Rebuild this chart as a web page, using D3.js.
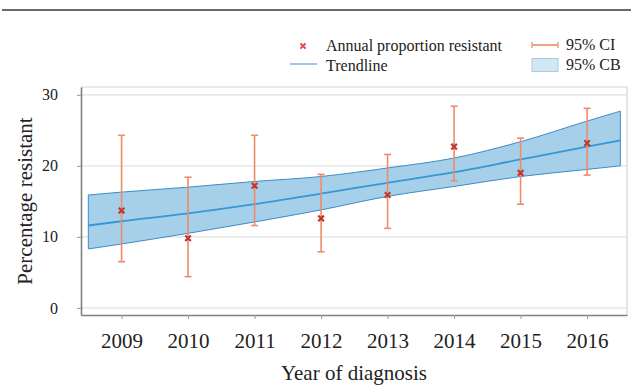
<!DOCTYPE html>
<html>
<head>
<meta charset="utf-8">
<script src="https://cdn.jsdelivr.net/npm/d3@7"></script>
<style>
  html, body { margin: 0; padding: 0; background: #fff; }
  svg { display: block; }
</style>
</head>
<body>
<svg id="chart" width="631" height="385"></svg>
<script>
// Annual resistance estimates with 95% confidence intervals
const years      = [2009, 2010, 2011, 2012, 2013, 2014, 2015, 2016];
const proportion = [13.7, 9.8, 17.2, 12.6, 15.9, 22.7, 19.0, 23.2];
const ciLower    = [6.5, 4.4, 11.6, 7.9, 11.2, 17.9, 14.6, 18.7];
const ciUpper    = [24.3, 18.4, 24.3, 18.8, 21.6, 28.4, 23.9, 28.1];

// Fitted trendline with its 95% confidence band
const trendX     = [2008.5, 2009, 2010, 2011, 2012, 2013, 2014, 2015, 2016, 2016.5];
const trendY     = [11.6, 12.2, 13.3, 14.6, 16.1, 17.6, 19.1, 20.9, 22.7, 23.6];
const bandLower  = [8.3, 9.0, 10.5, 12.1, 13.8, 15.7, 17.1, 18.5, 19.5, 20.0];
const bandUpper  = [15.9, 16.3, 17.0, 17.8, 18.5, 19.7, 21.1, 23.4, 26.3, 27.7];

const yTicks = [0, 10, 20, 30];

const FONT = "'Liberation Serif', 'DejaVu Serif', 'Times New Roman', serif";

const svg = d3.select("#chart").attr("font-family", FONT);

const plot = { left: 81, right: 627, top: 87, bottom: 315 };

const x = d3.scaleLinear().domain([2008.39, 2016.6]).range([plot.left, plot.right]);
const y = d3.scaleLinear().domain([-1, 31.1]).range([plot.bottom, plot.top]);

// rule across the top of the figure
svg.append("line")
  .attr("x1", 2).attr("x2", 631).attr("y1", 10).attr("y2", 10)
  .attr("stroke", "#6a6a6a").attr("stroke-width", 2.2);

// light frame on top and right
svg.append("line")
  .attr("x1", plot.left).attr("x2", plot.right).attr("y1", plot.top).attr("y2", plot.top)
  .attr("stroke", "#d4d4d4").attr("stroke-width", 1.2);
svg.append("line")
  .attr("x1", plot.right).attr("x2", plot.right).attr("y1", plot.top).attr("y2", plot.bottom)
  .attr("stroke", "#d4d4d4").attr("stroke-width", 1.2);

// horizontal gridlines
svg.append("g").selectAll("line").data(yTicks).join("line")
  .attr("x1", plot.left).attr("x2", plot.right)
  .attr("y1", d => y(d)).attr("y2", d => y(d))
  .attr("stroke", "#e2e2e2").attr("stroke-width", 1.2);

// confidence band
const bandData = trendX.map((t, i) => ({ x: t, lo: bandLower[i], hi: bandUpper[i], m: trendY[i] }));
const area = d3.area().x(d => x(d.x)).y0(d => y(d.lo)).y1(d => y(d.hi)).curve(d3.curveMonotoneX);
svg.append("path").datum(bandData)
  .attr("d", area)
  .attr("fill", "#a6d0ea")
  .attr("stroke", "#3f8cc6").attr("stroke-width", 1);

// trendline
const line = d3.line().x(d => x(d.x)).y(d => y(d.m)).curve(d3.curveMonotoneX);
svg.append("path").datum(bandData)
  .attr("d", line)
  .attr("fill", "none")
  .attr("stroke", "#3597d4").attr("stroke-width", 1.8);

// error bars
const ciColor = "#ec8c69";
const bars = svg.append("g").selectAll("g").data(years).join("g");
bars.append("line")
  .attr("x1", d => x(d)).attr("x2", d => x(d))
  .attr("y1", (d, i) => y(ciLower[i])).attr("y2", (d, i) => y(ciUpper[i]))
  .attr("stroke", ciColor).attr("stroke-width", 1.6);
bars.append("line")
  .attr("x1", d => x(d) - 3.5).attr("x2", d => x(d) + 3.5)
  .attr("y1", (d, i) => y(ciLower[i])).attr("y2", (d, i) => y(ciLower[i]))
  .attr("stroke", ciColor).attr("stroke-width", 1.6);
bars.append("line")
  .attr("x1", d => x(d) - 3.5).attr("x2", d => x(d) + 3.5)
  .attr("y1", (d, i) => y(ciUpper[i])).attr("y2", (d, i) => y(ciUpper[i]))
  .attr("stroke", ciColor).attr("stroke-width", 1.6);

// point markers
const cross = (sel, cx, cy, r, color, w) => {
  sel.append("path")
    .attr("d", `M${cx - r},${cy - r}L${cx + r},${cy + r}M${cx - r},${cy + r}L${cx + r},${cy - r}`)
    .attr("stroke", color).attr("stroke-width", w).attr("fill", "none");
};
const pts = svg.append("g");
years.forEach((yr, i) => cross(pts, x(yr), y(proportion[i]), 2.8, "#c0392f", 2.2));

// axes
const yAxis = d3.axisLeft(y).tickValues(yTicks).tickSize(4).tickSizeOuter(0).tickPadding(19);
const gy = svg.append("g").attr("transform", `translate(${plot.left},0)`).call(yAxis)
  .attr("font-family", FONT).attr("font-size", 16);
gy.select(".domain").attr("stroke", "#808080").attr("stroke-width", 1.6);
gy.selectAll(".tick line").attr("stroke", "#9a9a9a");
gy.selectAll(".tick text").attr("fill", "#222");

const xAxis = d3.axisBottom(x).tickValues(years).tickFormat(d3.format("d")).tickSize(4).tickSizeOuter(0);
const gx = svg.append("g").attr("transform", `translate(0,${plot.bottom})`).call(xAxis)
  .attr("font-family", FONT).attr("font-size", 21);
gx.select(".domain").attr("stroke", "#808080").attr("stroke-width", 1.6);
gx.selectAll(".tick line").attr("stroke", "#9a9a9a");
gx.selectAll(".tick text").attr("fill", "#222").attr("y", 33).attr("dy", 0);

// axis titles
svg.append("text")
  .attr("x", (plot.left + plot.right) / 2).attr("y", 380)
  .attr("text-anchor", "middle").attr("font-size", 21).attr("fill", "#222")
  .text("Year of diagnosis");
svg.append("text")
  .attr("transform", `translate(32,${(plot.top + plot.bottom) / 2}) rotate(-90)`)
  .attr("text-anchor", "middle").attr("font-size", 21).attr("fill", "#222")
  .text("Percentage resistant");

// legend
const lg = svg.append("g").attr("font-size", 16).attr("fill", "#222");
cross(lg, 303, 46, 2.6, "#e0464a", 2);
lg.append("text").attr("x", 326).attr("y", 50.5).text("Annual proportion resistant");
lg.append("line").attr("x1", 290).attr("x2", 317).attr("y1", 64).attr("y2", 64)
  .attr("stroke", "#9cc9e6").attr("stroke-width", 2);
lg.append("text").attr("x", 326).attr("y", 70.5).text("Trendline");

lg.append("line").attr("x1", 532).attr("x2", 558).attr("y1", 45).attr("y2", 45)
  .attr("stroke", "#f2a07f").attr("stroke-width", 2);
[532, 558].forEach(px => lg.append("line")
  .attr("x1", px).attr("x2", px).attr("y1", 42).attr("y2", 48)
  .attr("stroke", "#f2a07f").attr("stroke-width", 1.5));
lg.append("text").attr("x", 566).attr("y", 50).text("95% CI");
lg.append("rect").attr("x", 532).attr("y", 58.5).attr("width", 26).attr("height", 13)
  .attr("fill", "#d3e6f4").attr("stroke", "#a6cbe6").attr("stroke-width", 1);
lg.append("text").attr("x", 566).attr("y", 70).text("95% CB");
</script>
</body>
</html>
